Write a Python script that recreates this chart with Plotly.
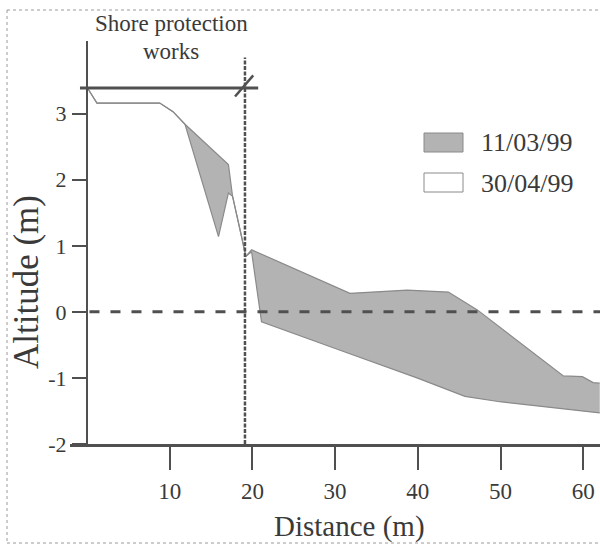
import plotly.graph_objects as go

# ---- data ----
dist_1103 = [0, 1.2, 8.8, 10.4, 11.85, 17.1, 17.6, 18.7, 19.2, 19.9, 31.8, 38.7, 43.7, 47.2, 57.6, 59.9, 61.2, 62.0]
alt_1103 = [3.40, 3.16, 3.16, 3.03, 2.84, 2.23, 1.75, 1.14, 0.84, 0.94, 0.28, 0.33, 0.30, 0.03, -0.97, -0.98, -1.07, -1.08]

dist_3004 = [0, 1.2, 8.8, 10.4, 11.85, 15.9, 17.1, 17.6, 18.7, 19.2, 19.9, 21.1, 30.6, 39.9, 45.7, 49.9, 62.0]
alt_3004 = [3.40, 3.16, 3.16, 3.03, 2.84, 1.14, 1.80, 1.75, 1.14, 0.84, 0.91, -0.15, -0.58, -1.00, -1.28, -1.36, -1.53]

legend_labels = ["11/03/99", "30/04/99"]
x_ticks = [10, 20, 30, 40, 50, 60]
y_ticks = [-2, -1, 0, 1, 2, 3]
y_ticktext = ["-2", "-1", "0", "1", "2", "3"]
works_start, works_end, works_alt = -0.85, 20.7, 3.39
works_limit = 19.1

# ---- layout geometry ----
W, H = 600, 547
L, R, T, B = 70, 0, 41, 103
PW, PH = W - L - R, H - T - B
def px(x):
    return (x - L) / PW
def py(y):
    return (H - B - y) / PH

FONT = "Liberation Serif, Times New Roman, serif"
TXT = "#3a3a3a"
AX = "#505050"
FILL = "#b3b3b3"
EDGE = "#8a8a8a"

fig = go.Figure()
fig.add_trace(go.Scatter(x=dist_3004, y=alt_3004, mode="lines",
                         line=dict(color=EDGE, width=1.2), name=legend_labels[1],
                         showlegend=False, hoverinfo="skip"))
fig.add_trace(go.Scatter(x=dist_1103, y=alt_1103, mode="lines", fill="tonexty",
                         fillcolor=FILL, line=dict(color=EDGE, width=1.2),
                         name=legend_labels[0], showlegend=False, hoverinfo="skip"))

shapes = []
# zero level dashed line
shapes.append(dict(type="line", xref="x", yref="y", x0=0.3, x1=62.03, y0=0, y1=0,
                   line=dict(color=AX, width=3, dash="10px,11px")))
# limit of the shore protection works
shapes.append(dict(type="line", xref="x", yref="y", x0=works_limit, x1=works_limit, y0=-2, y1=3.85,
                   line=dict(color=AX, width=2.5, dash="4px,1.5px")))
shapes.append(dict(type="line", xref="x", yref="y", x0=works_start, x1=works_end, y0=works_alt, y1=works_alt,
                   line=dict(color=AX, width=3)))
shapes.append(dict(type="line", xref="x", yref="y", x0=17.9, x1=20.1, y0=3.26, y1=3.58,
                   line=dict(color=AX, width=2.5)))
# legend swatches
shapes.append(dict(type="rect", xref="paper", yref="paper", x0=px(424), x1=px(463), y0=py(152), y1=py(133),
                   fillcolor=FILL, line=dict(color=EDGE, width=1)))
shapes.append(dict(type="rect", xref="paper", yref="paper", x0=px(424), x1=px(463), y0=py(192), y1=py(173),
                   fillcolor="white", line=dict(color=EDGE, width=1)))
# dotted frame (top, left, bottom; right side is cut off in the reference)
frame = dict(color="#9a9a9a", width=1, dash="dot")
shapes.append(dict(type="line", xref="paper", yref="paper", x0=px(7), x1=px(600), y0=py(10), y1=py(10),
                   line=frame, layer="below"))
shapes.append(dict(type="line", xref="paper", yref="paper", x0=px(7), x1=px(7), y0=py(10), y1=py(543),
                   line=frame, layer="below"))
shapes.append(dict(type="line", xref="paper", yref="paper", x0=px(7), x1=px(600), y0=py(543), y1=py(543),
                   line=frame, layer="below"))

annotations = [
    dict(text=legend_labels[0], x=px(479), y=py(143), xref="paper", yref="paper",
         xanchor="left", yanchor="middle", showarrow=False, font=dict(size=26, color=TXT, family=FONT)),
    dict(text=legend_labels[1], x=px(479), y=py(183), xref="paper", yref="paper",
         xanchor="left", yanchor="middle", showarrow=False, font=dict(size=26, color=TXT, family=FONT)),
    dict(text="Shore protection", x=px(171), y=py(23), xref="paper", yref="paper",
         xanchor="center", yanchor="middle", showarrow=False, font=dict(size=23, color=TXT, family=FONT)),
    dict(text="works", x=px(171), y=py(51), xref="paper", yref="paper",
         xanchor="center", yanchor="middle", showarrow=False, font=dict(size=23, color=TXT, family=FONT)),
    dict(text="Distance (m)", x=px(349), y=py(526), xref="paper", yref="paper",
         xanchor="center", yanchor="middle", showarrow=False, font=dict(size=29, color=TXT, family=FONT)),
    dict(text="Altitude (m)", x=px(26), y=py(282), xref="paper", yref="paper", textangle=-90,
         xanchor="center", yanchor="middle", showarrow=False, font=dict(size=35, color=TXT, family=FONT)),
]

fig.update_layout(
    width=W, height=H,
    margin=dict(l=L, r=R, t=T, b=B, autoexpand=False),
    paper_bgcolor="white", plot_bgcolor="rgba(0,0,0,0)",
    showlegend=False,
    shapes=shapes, annotations=annotations,
    xaxis=dict(range=[-2.056, 62.03], showgrid=False, zeroline=False, automargin=False,
               showline=True, linecolor=AX, linewidth=3,
               ticks="outside", ticklen=23, tickwidth=2, tickcolor=AX,
               tickvals=x_ticks, ticklabelstandoff=1,
               tickfont=dict(size=23, color=TXT, family=FONT)),
    yaxis=dict(range=[-2, 4.1], showgrid=False, zeroline=False, automargin=False,
               anchor="free", position=px(87),
               showline=True, linecolor=AX, linewidth=2,
               ticks="outside", ticklen=14, tickwidth=2, tickcolor=AX,
               tickvals=y_ticks, ticktext=y_ticktext, ticklabelstandoff=1,
               tickfont=dict(size=22, color=TXT, family=FONT)),
)

fig.write_html("out.html", config={"displayModeBar": False},
               post_script="document.body.style.margin='0';document.body.style.overflow='hidden';")
